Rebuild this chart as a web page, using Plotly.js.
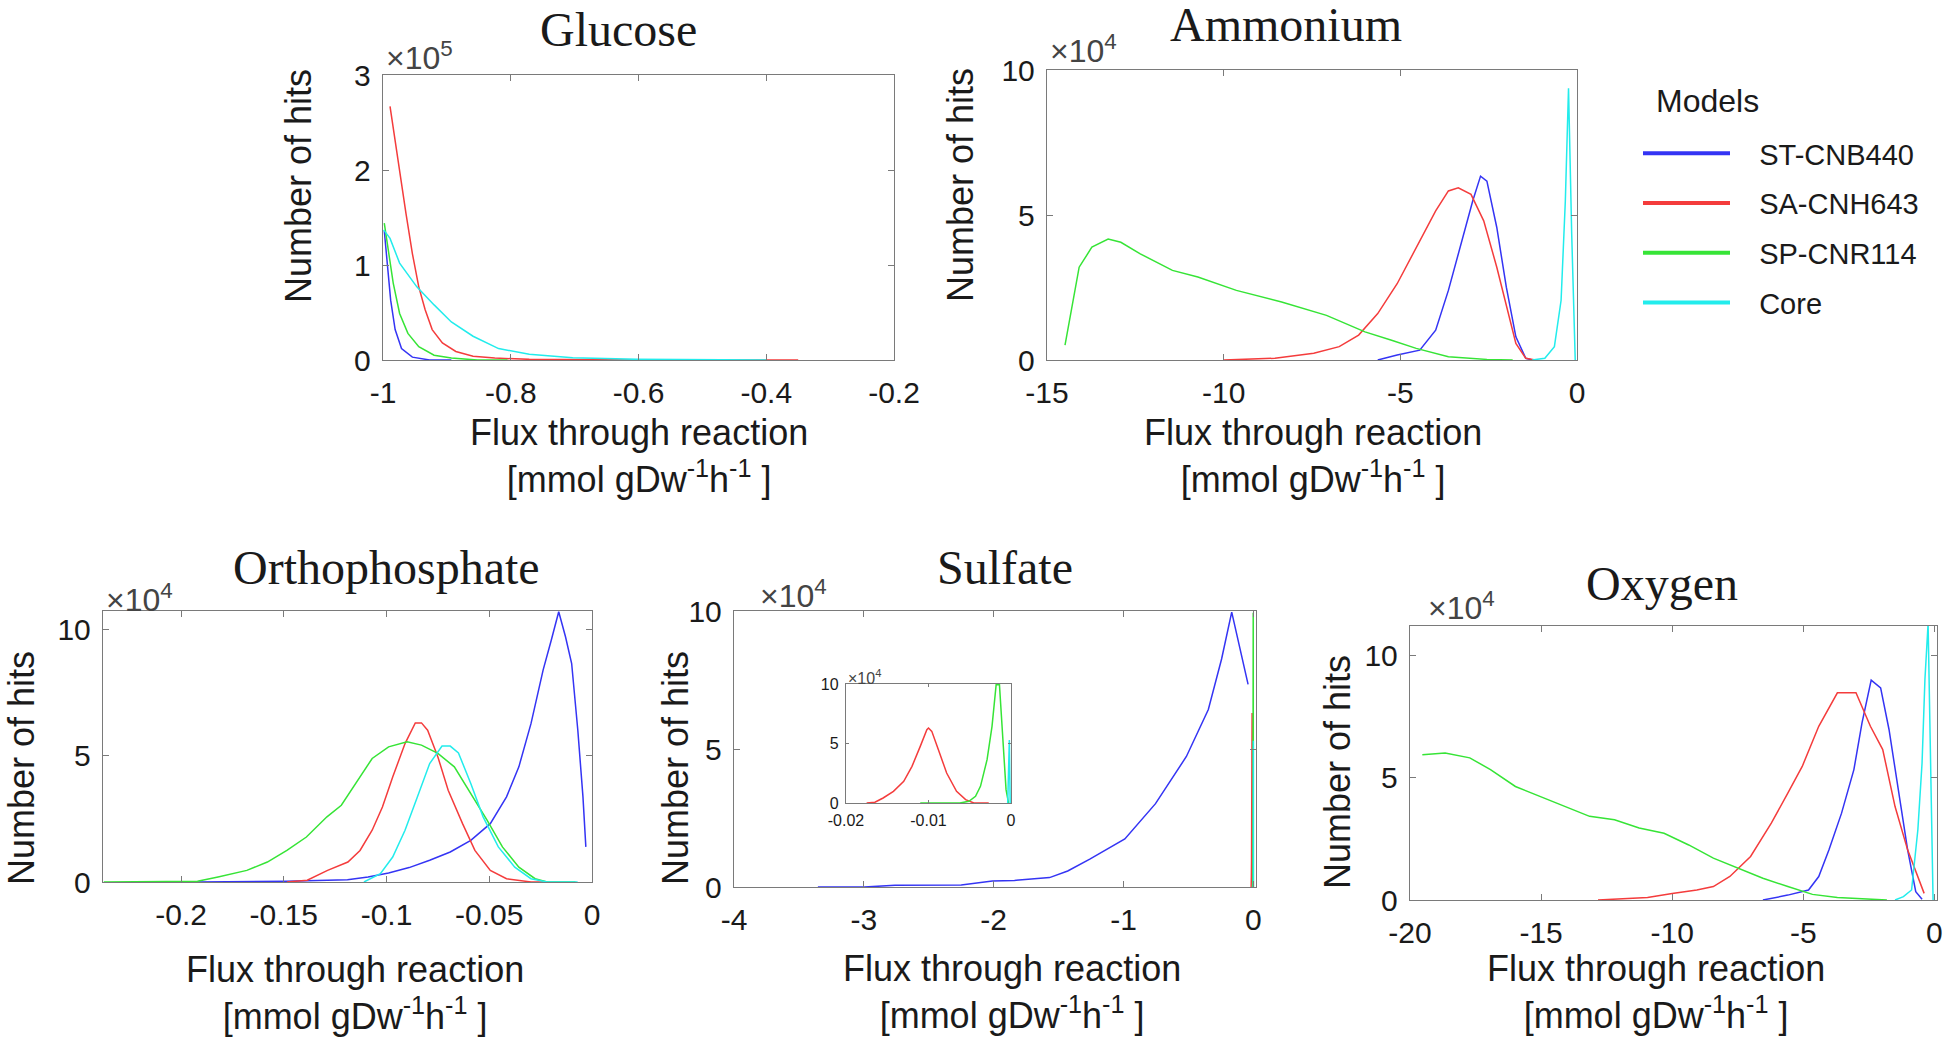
<!DOCTYPE html>
<html>
<head>
<meta charset="utf-8">
<script src="https://cdn.plot.ly/plotly-3.0.1.min.js"></script>
<style>html,body{margin:0;padding:0;background:#fff}#chart{width:1946px;height:1038px}</style>
</head>
<body>
<div id="chart"></div>
<script>
// ---------------- DATA (y in axis units: x10^5 for glucose, x10^4 otherwise) ----------------
const models = ["ST-CNB440", "SA-CNH643", "SP-CNR114", "Core"];

// Glucose
const glucoseX_ST = [-0.998, -0.993, -0.988, -0.981, -0.971, -0.954, -0.927, -0.893];
const glucoseY_ST = [1.36, 0.98, 0.63, 0.32, 0.12, 0.03, 0.0, 0.0];
const glucoseX_SA = [-0.989, -0.974, -0.964, -0.954, -0.944, -0.934, -0.923, -0.907, -0.886, -0.859, -0.825, -0.771, -0.6, -0.35];
const glucoseY_SA = [2.67, 1.96, 1.54, 1.12, 0.77, 0.53, 0.32, 0.18, 0.09, 0.04, 0.02, 0.007, 0.0, 0.0];
const glucoseX_SP = [-0.998, -0.991, -0.984, -0.974, -0.961, -0.944, -0.920, -0.893, -0.852, -0.805];
const glucoseY_SP = [1.44, 1.12, 0.81, 0.49, 0.28, 0.14, 0.05, 0.02, 0.0, 0.0];
const glucoseX_Core = [-0.999, -0.989, -0.974, -0.947, -0.920, -0.893, -0.859, -0.819, -0.771, -0.703, -0.602, -0.399];
const glucoseY_Core = [1.37, 1.28, 1.02, 0.77, 0.58, 0.40, 0.25, 0.12, 0.06, 0.025, 0.007, 0.0];

// Ammonium
const ammoniumX_ST = [-5.64, -5.09, -4.45, -4.0, -3.64, -3.27, -2.95, -2.73, -2.55, -2.27, -2.0, -1.73, -1.45, -1.27];
const ammoniumY_ST = [0, 0.17, 0.34, 1.03, 2.4, 4.11, 5.49, 6.34, 6.17, 4.57, 2.51, 0.8, 0.06, 0];
const ammoniumX_SA = [-10.0, -8.55, -7.45, -6.73, -6.18, -5.64, -5.09, -4.55, -4.0, -3.64, -3.36, -3.0, -2.64, -2.27, -2.0, -1.73, -1.45, -1.18];
const ammoniumY_SA = [0, 0.06, 0.23, 0.46, 0.86, 1.6, 2.63, 3.89, 5.14, 5.83, 5.94, 5.71, 4.8, 3.2, 1.83, 0.57, 0.06, 0];
const ammoniumX_SP = [-14.49, -14.27, -14.09, -13.73, -13.27, -12.91, -12.36, -11.45, -10.73, -9.64, -8.36, -7.09, -6.0, -5.27, -4.55, -3.64, -2.55, -1.82];
const ammoniumY_SP = [0.51, 2.06, 3.2, 3.89, 4.17, 4.06, 3.66, 3.09, 2.86, 2.40, 2.0, 1.54, 0.97, 0.69, 0.40, 0.11, 0.02, 0];
const ammoniumX_Core = [-1.27, -0.91, -0.64, -0.45, -0.33, -0.24, -0.15, -0.05];
const ammoniumY_Core = [0, 0.06, 0.46, 2.06, 5.49, 9.37, 4.34, 0];

// Orthophosphate
const orthoX_ST = [-0.192, -0.1485, -0.119, -0.109, -0.099, -0.089, -0.079, -0.069, -0.059, -0.0495, -0.0416, -0.0356, -0.0297, -0.0238, -0.0198, -0.0162, -0.0129, -0.0099, -0.0069, -0.0044, -0.003];
const orthoY_ST = [0, 0.03, 0.09, 0.2, 0.36, 0.57, 0.86, 1.19, 1.65, 2.31, 3.37, 4.56, 6.27, 8.39, 9.58, 10.7, 9.71, 8.65, 6.01, 3.37, 1.39];
const orthoX_SA = [-0.1485, -0.1386, -0.1287, -0.1188, -0.1129, -0.107, -0.102, -0.097, -0.091, -0.086, -0.083, -0.080, -0.075, -0.070, -0.063, -0.057, -0.0495, -0.0416, -0.0297, -0.0218];
const orthoY_SA = [0, 0.07, 0.46, 0.79, 1.25, 2.05, 2.97, 4.16, 5.48, 6.30, 6.30, 6.01, 4.95, 3.63, 2.31, 1.25, 0.46, 0.13, 0, 0];
const orthoX_SP = [-0.2376, -0.192, -0.182, -0.168, -0.158, -0.1485, -0.139, -0.129, -0.122, -0.115, -0.107, -0.099, -0.090, -0.083, -0.075, -0.067, -0.059, -0.051, -0.0436, -0.0356, -0.0277, -0.0218, -0.008];
const orthoY_SP = [0, 0.03, 0.2, 0.46, 0.79, 1.25, 1.78, 2.58, 3.04, 3.90, 4.89, 5.35, 5.55, 5.42, 5.09, 4.56, 3.50, 2.44, 1.39, 0.59, 0.13, 0, 0];
const orthoX_Core = [-0.111, -0.103, -0.097, -0.091, -0.085, -0.079, -0.073, -0.069, -0.065, -0.059, -0.053, -0.0456, -0.0376, -0.0297, -0.0218, -0.007];
const orthoY_Core = [0, 0.33, 0.99, 2.05, 3.37, 4.69, 5.38, 5.38, 5.11, 3.90, 2.58, 1.39, 0.59, 0.13, 0, 0];

// Sulfate (main panel blue; red/green/cyan are also shown in the inset)
const sulfateX_ST = [-3.354, -2.997, -2.76, -2.25, -2.01, -1.84, -1.57, -1.43, -1.26, -0.99, -0.754, -0.516, -0.347, -0.245, -0.167, -0.109, -0.041];
const sulfateY_ST = [0, 0, 0.06, 0.07, 0.22, 0.24, 0.34, 0.58, 1.01, 1.74, 3.02, 4.73, 6.43, 8.26, 9.96, 8.75, 7.34];
const sulfateX_SA = [-0.0175, -0.0165, -0.0155, -0.01425, -0.0130, -0.0120, -0.0110, -0.0102, -0.0100, -0.0096, -0.0088, -0.0078, -0.0066, -0.0055, -0.0045, -0.0027];
const sulfateY_SA = [0, 0.06, 0.42, 0.98, 1.82, 3.08, 4.76, 6.16, 6.3, 6.02, 4.48, 2.52, 0.98, 0.28, 0, 0];
const sulfateX_SP = [-0.011, -0.0062, -0.0051, -0.0043, -0.0037, -0.0029, -0.0023, -0.0018, -0.0014, -0.001, -0.0006, -0.0003];
const sulfateY_SP = [0, 0, 0.14, 0.56, 1.4, 3.64, 6.44, 9.94, 9.94, 5.6, 1.12, 0];
const sulfateX_Core = [-0.0004, -0.0002, -0.0001];
const sulfateY_Core = [0, 5.3, 0];

// Oxygen
const oxygenX_ST = [-6.54, -5.59, -4.80, -4.41, -4.02, -3.54, -3.07, -2.76, -2.41, -2.05, -1.73, -1.34, -1.02, -0.71, -0.47];
const oxygenY_ST = [0, 0.20, 0.41, 0.96, 2.05, 3.55, 5.33, 7.24, 8.99, 8.67, 6.97, 4.23, 2.05, 0.34, 0.03];
const oxygenX_SA = [-12.83, -10.94, -10.0, -9.06, -8.43, -7.80, -7.01, -6.22, -5.59, -5.04, -4.41, -3.70, -2.99, -2.44, -1.97, -1.50, -1.02, -0.39];
const oxygenY_SA = [0, 0.10, 0.27, 0.41, 0.55, 0.96, 1.78, 3.14, 4.37, 5.46, 7.10, 8.47, 8.47, 7.10, 6.15, 3.82, 2.05, 0.27];
const oxygenX_SP = [-19.53, -18.66, -17.72, -16.93, -15.98, -15.04, -14.09, -13.15, -12.20, -11.26, -10.31, -9.37, -8.43, -7.48, -6.54, -5.59, -4.65, -3.70, -2.76, -1.81];
const oxygenY_SP = [5.94, 6.01, 5.81, 5.33, 4.64, 4.23, 3.82, 3.42, 3.28, 2.94, 2.73, 2.25, 1.71, 1.30, 0.89, 0.55, 0.23, 0.10, 0.04, 0];
const oxygenX_Core = [-1.50, -1.18, -0.87, -0.63, -0.47, -0.36, -0.24, -0.13, -0.05];
const oxygenY_Core = [0, 0.14, 0.41, 2.87, 5.60, 9.02, 11.3, 5.60, 0];

// Tick values and labels
const glucoseXTicks = [-1, -0.8, -0.6, -0.4, -0.2];
const glucoseXLabels = ["-1", "-0.8", "-0.6", "-0.4", "-0.2"];
const glucoseYTicks = [0, 1, 2, 3];
const glucoseYLabels = ["0", "1", "2", "3"];
const ammoniumXTicks = [-15, -10, -5, 0];
const ammoniumXLabels = ["-15", "-10", "-5", "0"];
const orthoXTicks = [-0.2, -0.15, -0.1, -0.05, 0];
const orthoXLabels = ["-0.2", "-0.15", "-0.1", "-0.05", "0"];
const sulfateXTicks = [-4, -3, -2, -1, 0];
const sulfateXLabels = ["-4", "-3", "-2", "-1", "0"];
const oxygenXTicks = [-20, -15, -10, -5, 0];
const oxygenXLabels = ["-20", "-15", "-10", "-5", "0"];
const insetXTicks = [-0.02, -0.01, 0];
const insetXLabels = ["-0.02", "-0.01", "0"];
const hitsYTicks = [0, 5, 10];
const hitsYLabels = ["0", "5", "10"];

const panelTitles = ["Glucose", "Ammonium", "Orthophosphate", "Sulfate", "Oxygen"];
const legendTitle = "Models";
const yTitle = "Number of hits";
const xTitle = "Flux through reaction<br>[mmol gDw<sup>-1</sup>h<sup>-1</sup> ]";

// ---------------- STYLE / LAYOUT ----------------
const W = 1946, H = 1038;
const SANS = "Liberation Sans, Arial, Helvetica, sans-serif";
const SERIF = "Liberation Serif, Times New Roman, serif";
const colors = ["#3434f4", "#f43c3c", "#36e436", "#22ecec"];
const px = x => x / W;
const py = y => 1 - y / H;
const dX = (a, b) => [px(a), px(b)];
const dY = (top, bottom) => [py(bottom), py(top)];

function axis(domain, anchor, range, vals, labels, fs, standoff) {
  return {domain, anchor, range, tickmode: "array", tickvals: vals, ticktext: labels,
    showline: true, mirror: "ticks", linecolor: "#7a7a7a", linewidth: 1.2,
    ticks: "inside", ticklen: fs > 20 ? 6 : 3, tickwidth: 1, tickcolor: "#7a7a7a",
    showgrid: false, zeroline: false, fixedrange: true, automargin: false,
    ticklabelstandoff: standoff,
    tickfont: {family: SANS, size: fs, color: "#1a1a1a"}};
}

const traces = [];
function addPanel(xs, ys, xa, ya) {
  for (let i = 0; i < 4; i++) {
    if (!xs[i]) continue;
    traces.push({type: "scatter", mode: "lines", x: xs[i], y: ys[i], xaxis: xa, yaxis: ya,
      name: models[i], legendgroup: models[i], showlegend: false,
      line: {color: colors[i], width: 1.5}, hoverinfo: "skip"});
  }
}
addPanel([glucoseX_ST, glucoseX_SA, glucoseX_SP, glucoseX_Core], [glucoseY_ST, glucoseY_SA, glucoseY_SP, glucoseY_Core], "x", "y");
addPanel([ammoniumX_ST, ammoniumX_SA, ammoniumX_SP, ammoniumX_Core], [ammoniumY_ST, ammoniumY_SA, ammoniumY_SP, ammoniumY_Core], "x2", "y2");
addPanel([orthoX_ST, orthoX_SA, orthoX_SP, orthoX_Core], [orthoY_ST, orthoY_SA, orthoY_SP, orthoY_Core], "x3", "y3");
addPanel([sulfateX_ST, sulfateX_SA, sulfateX_SP, sulfateX_Core], [sulfateY_ST, sulfateY_SA, sulfateY_SP, sulfateY_Core], "x4", "y4");
addPanel([oxygenX_ST, oxygenX_SA, oxygenX_SP, oxygenX_Core], [oxygenY_ST, oxygenY_SA, oxygenY_SP, oxygenY_Core], "x5", "y5");
addPanel([null, sulfateX_SA, sulfateX_SP, sulfateX_Core], [null, sulfateY_SA, sulfateY_SP, sulfateY_Core], "x6", "y6");
// legend-only entries (no data), drawn with a thicker line like the reference key
models.forEach((m, i) => traces.push({type: "scatter", mode: "lines", x: [null], y: [null],
  xaxis: "x", yaxis: "y", name: "\u00a0\u00a0\u00a0" + m, legendgroup: m, showlegend: true,
  line: {color: colors[i], width: 4}, hoverinfo: "skip"}));

const layout = {
  width: W, height: H, margin: {l: 0, r: 0, t: 0, b: 0},
  paper_bgcolor: "#fff", plot_bgcolor: "#fff", showlegend: true,
  xaxis:  axis(dX(383, 894), "y", [-1, -0.2], glucoseXTicks, glucoseXLabels, 30, 6),
  yaxis:  axis(dY(75, 360), "x", [0, 3], glucoseYTicks, glucoseYLabels, 30, 5),
  xaxis2: axis(dX(1047, 1577), "y2", [-15, 0], ammoniumXTicks, ammoniumXLabels, 30, 6),
  yaxis2: axis(dY(70, 360), "x2", [0, 10], hitsYTicks, hitsYLabels, 30, 5),
  xaxis3: axis(dX(103, 592), "y3", [-0.238, 0], orthoXTicks, orthoXLabels, 30, 6),
  yaxis3: axis(dY(611, 882), "x3", [0, 10.73], hitsYTicks, hitsYLabels, 30, 5),
  xaxis4: axis(dX(734, 1256), "y4", [-4, 0.02], sulfateXTicks, sulfateXLabels, 30, 6),
  yaxis4: axis(dY(611, 887), "x4", [0, 10], hitsYTicks, hitsYLabels, 30, 5),
  xaxis5: axis(dX(1410, 1937), "y5", [-20, 0.1], oxygenXTicks, oxygenXLabels, 30, 6),
  yaxis5: axis(dY(626, 900), "x5", [0, 11.2], hitsYTicks, hitsYLabels, 30, 5),
  xaxis6: axis(dX(846, 1011), "y6", [-0.02, 0], insetXTicks, insetXLabels, 16, 3),
  yaxis6: axis(dY(684, 803), "x6", [0, 10], hitsYTicks, hitsYLabels, 16, 3),
  legend: {x: px(1638), y: py(128), xanchor: "left", yanchor: "top", bgcolor: "rgba(0,0,0,0)",
    traceorder: "grouped", tracegroupgap: 9, itemwidth: 87,
    font: {family: SANS, size: 29, color: "#1a1a1a"}},
  annotations: []
};

function ann(text, x, y, size, family, extra) {
  layout.annotations.push(Object.assign({text, x: px(x), y: py(y), xref: "paper", yref: "paper",
    showarrow: false, xanchor: "center", yanchor: "middle",
    font: {family, size, color: "#1a1a1a"}}, extra || {}));
}
// legend title
ann(legendTitle, 1654, 101, 32, SANS, {xanchor: "left"});
// panel titles
const titlePos = [[618, 29], [1286, 25], [386, 567], [1005, 567], [1662, 583]];
panelTitles.forEach((t, i) => ann(t, titlePos[i][0], titlePos[i][1], 48, SERIF));
// y titles
[[299, 186], [961, 185], [21, 768], [675, 768], [1337, 772]].forEach(p =>
  ann(yTitle, p[0], p[1], 36, SANS, {textangle: -90}));
// x titles
[[639, 456], [1313, 456], [355, 993], [1012, 992], [1656, 992]].forEach(p =>
  ann(xTitle, p[0], p[1], 36, SANS));
// exponent labels
[["×10<sup>5</sup>", 384, 56], ["×10<sup>4</sup>", 1048, 49], ["×10<sup>4</sup>", 104, 598],
 ["×10<sup>4</sup>", 758, 594], ["×10<sup>4</sup>", 1426, 606]].forEach(p =>
  ann(p[0], p[1], p[2], 32, SANS, {xanchor: "left", font: {family: SANS, size: 32, color: "#444"}}));
ann("×10<sup>4</sup>", 846, 677, 16, SANS, {xanchor: "left", font: {family: SANS, size: 16, color: "#444"}});

Plotly.newPlot("chart", traces, layout, {staticPlot: true, displayModeBar: false});
</script>
</body>
</html>
